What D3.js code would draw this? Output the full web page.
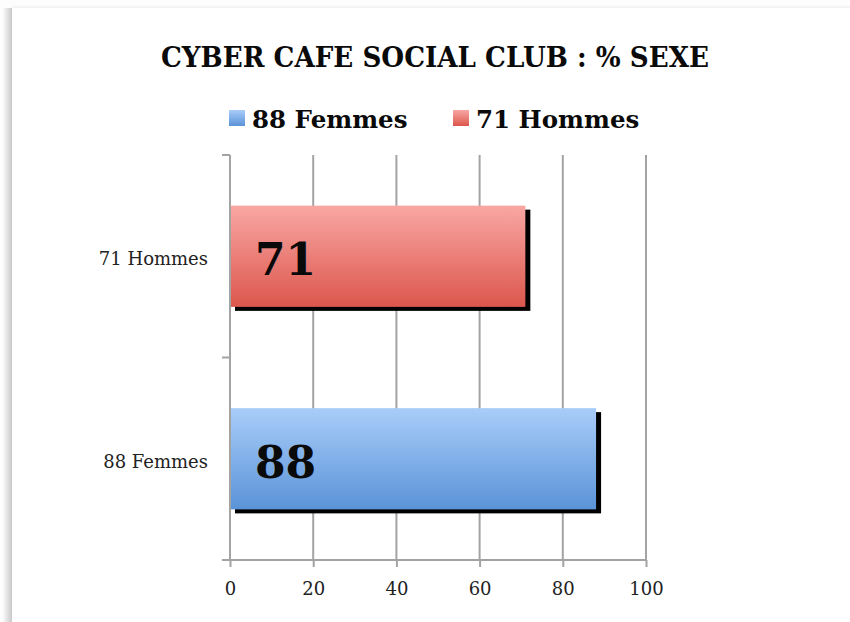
<!DOCTYPE html>
<html>
<head>
<meta charset="utf-8">
<script src="https://cdn.jsdelivr.net/npm/d3@7"></script>
<style>
  html, body { margin: 0; padding: 0; background: #ffffff; }
  svg { display: block; }
</style>
</head>
<body>
<svg id="chart" width="850" height="622"></svg>
<script>
// ---- data ----
const title = "CYBER CAFE SOCIAL CLUB : % SEXE";
const categories = ["88 Femmes", "71 Hommes"];
const values = [88, 71];
const xTicks = [0, 20, 40, 60, 80, 100];
const xDomain = [0, 100];

// ---- styles ----
const serif = "'DejaVu Serif', 'Liberation Serif', serif";
const gridColor = "#a3a3a3";
const palette = {
  "88 Femmes": { top: "#a9cdf9", bottom: "#5a93d8" },
  "71 Hommes": { top: "#f9a7a3", bottom: "#dc574d" }
};

const svg = d3.select("#chart");
const defs = svg.append("defs");

// page frame (white sheet with soft left shadow)
const sh = defs.append("linearGradient").attr("id", "leftShadow").attr("x1", 0).attr("x2", 1).attr("y1", 0).attr("y2", 0);
sh.append("stop").attr("offset", "0%").attr("stop-color", "#ffffff");
sh.append("stop").attr("offset", "100%").attr("stop-color", "#c9c9c9");
const shT = defs.append("linearGradient").attr("id", "topShadow").attr("x1", 0).attr("x2", 0).attr("y1", 0).attr("y2", 1);
shT.append("stop").attr("offset", "0%").attr("stop-color", "#ffffff");
shT.append("stop").attr("offset", "100%").attr("stop-color", "#f1f1f1");
svg.append("rect").attr("x", 0).attr("y", 0).attr("width", 850).attr("height", 622).attr("fill", "#fdfdfd");
svg.append("rect").attr("x", 12).attr("y", 4).attr("width", 838).attr("height", 4).attr("fill", "url(#topShadow)");
svg.append("rect").attr("x", 2).attr("y", 8).attr("width", 10).attr("height", 614).attr("fill", "url(#leftShadow)");
svg.append("rect").attr("x", 12).attr("y", 8).attr("width", 838).attr("height", 614).attr("fill", "#ffffff");

categories.forEach((c, i) => {
  const g = defs.append("linearGradient").attr("id", "grad" + i).attr("x1", 0).attr("x2", 0).attr("y1", 0).attr("y2", 1);
  g.append("stop").attr("offset", "0%").attr("stop-color", palette[c].top);
  g.append("stop").attr("offset", "100%").attr("stop-color", palette[c].bottom);
});

const plot = { left: 230, right: 646, top: 155, bottom: 560 };

const x = d3.scaleLinear().domain(xDomain).range([plot.left, plot.right]);
const y = d3.scaleBand().domain(categories).range([plot.bottom, plot.top])
  .paddingInner(0.5).paddingOuter(0.25);

// title
svg.append("text")
  .attr("x", 435).attr("y", 67)
  .attr("text-anchor", "middle")
  .attr("font-family", serif).attr("font-weight", "bold")
  .attr("font-size", 28.5).attr("fill", "#0a0a0a")
  .attr("textLength", 548).attr("lengthAdjust", "spacingAndGlyphs")
  .text(title);

// legend
const legendX = [229, 453];
categories.forEach((c, i) => {
  const lg = svg.append("g").attr("transform", `translate(${legendX[i]},0)`);
  lg.append("rect").attr("x", 0).attr("y", 110).attr("width", 16).attr("height", 16)
    .attr("fill", `url(#grad${i})`);
  lg.append("text").attr("x", 23).attr("y", 128)
    .attr("font-family", serif).attr("font-weight", "bold")
    .attr("font-size", 24.5).attr("fill", "#0a0a0a")
    .text(c);
});

// vertical gridlines
svg.append("g").selectAll("line").data(xTicks.filter(d => d > 0)).join("line")
  .attr("x1", d => x(d)).attr("x2", d => x(d))
  .attr("y1", plot.top).attr("y2", plot.bottom)
  .attr("stroke", gridColor).attr("stroke-width", 2);

// x axis
const xAxis = svg.append("g").attr("transform", `translate(0,${plot.bottom})`)
  .call(d3.axisBottom(x).tickValues(xTicks).tickSize(7).tickPadding(15).tickSizeOuter(0));
xAxis.select(".domain").remove();
xAxis.append("line").attr("x1", plot.left - 8).attr("x2", plot.right).attr("y1", 0).attr("y2", 0)
  .attr("stroke", gridColor).attr("stroke-width", 2);
xAxis.selectAll(".tick line").attr("stroke", gridColor).attr("stroke-width", 2);
xAxis.selectAll(".tick text").attr("font-family", serif).attr("font-size", 18).attr("fill", "#222");

// y axis line and category boundary ticks
svg.append("line").attr("x1", plot.left).attr("x2", plot.left).attr("y1", plot.top).attr("y2", plot.bottom)
  .attr("stroke", gridColor).attr("stroke-width", 2);
const boundaries = [plot.top, plot.top + y.step(), plot.bottom];
svg.append("g").selectAll("line").data(boundaries.slice(0, 2)).join("line")
  .attr("x1", plot.left - 8).attr("x2", plot.left).attr("y1", d => d).attr("y2", d => d)
  .attr("stroke", gridColor).attr("stroke-width", 2);

// category labels
svg.append("g").selectAll("text").data(categories).join("text")
  .attr("x", plot.left - 22).attr("y", d => y(d) + y.bandwidth() / 2 + 9)
  .attr("text-anchor", "end")
  .attr("font-family", serif).attr("font-size", 18).attr("fill", "#222")
  .text(d => d);

// bars: shadow then gradient bar
const bars = svg.append("g");
bars.selectAll("rect.shadow").data(categories).join("rect").attr("class", "shadow")
  .attr("x", x(0) + 5).attr("y", d => y(d) + 4)
  .attr("width", (d, i) => x(values[i]) - x(0))
  .attr("height", y.bandwidth())
  .attr("fill", "#000");
bars.selectAll("rect.bar").data(categories).join("rect").attr("class", "bar")
  .attr("x", x(0) + 1).attr("y", d => y(d))
  .attr("width", (d, i) => x(values[i]) - x(0) - 1)
  .attr("height", y.bandwidth())
  .attr("fill", (d, i) => `url(#grad${i})`);

// value labels
bars.selectAll("text").data(categories).join("text")
  .attr("x", x(0) + 25).attr("y", d => y(d) + y.bandwidth() / 2 + 19)
  .attr("font-family", serif).attr("font-weight", "bold")
  .attr("font-size", 44).attr("fill", "#0a0a0a")
  .text((d, i) => values[i]);
</script>
</body>
</html>
